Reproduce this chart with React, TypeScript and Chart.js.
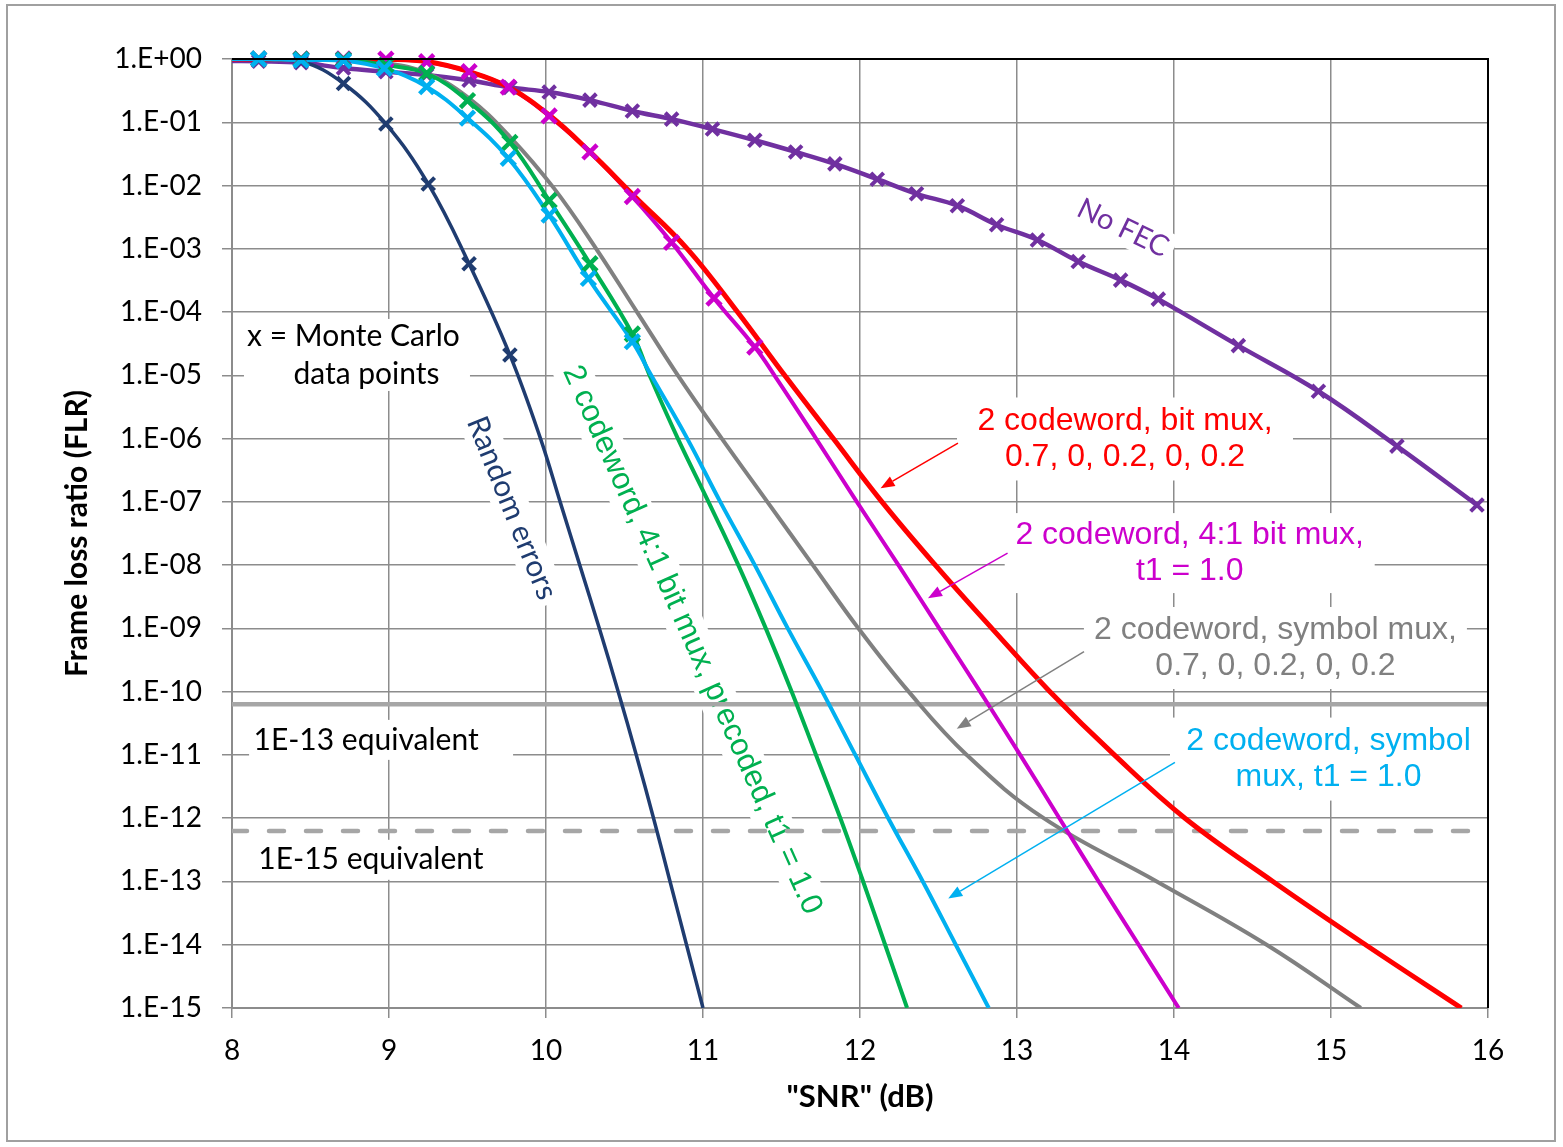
import { useEffect, useRef } from 'react';
import { Chart, registerables } from 'chart.js';

Chart.register(...registerables);

// ---------------- data ----------------
const xTickValues = [8, 9, 10, 11, 12, 13, 14, 15, 16];
const yTickExponents = [0, -1, -2, -3, -4, -5, -6, -7, -8, -9, -10, -11, -12, -13, -14, -15];

// No FEC (purple)
const noFecCurveX = [8.0, 8.17, 8.44, 8.71, 8.98, 9.24, 9.51, 9.77, 10.02, 10.28, 10.55, 10.80, 11.06, 11.33, 11.59, 11.84, 12.11, 12.36, 12.62, 12.87, 13.13, 13.39, 13.66, 13.90, 14.41, 14.92, 15.42, 15.93];
const noFecCurveY = [0.93, 0.92, 0.87, 0.72, 0.63, 0.56, 0.46, 0.355, 0.30, 0.224, 0.151, 0.112, 0.078, 0.052, 0.034, 0.022, 0.0126, 0.0074, 0.0048, 0.0024, 0.00138, 6.3e-4, 3.2e-4, 1.6e-4, 2.95e-5, 5.6e-6, 7.6e-7, 8.9e-8];
const noFecMcX = [8.17, 8.44, 8.71, 8.98, 9.24, 9.51, 9.77, 10.02, 10.28, 10.55, 10.80, 11.06, 11.33, 11.59, 11.84, 12.11, 12.36, 12.62, 12.87, 13.13, 13.39, 13.66, 13.90, 14.41, 14.92, 15.42, 15.93];
const noFecMcY = [0.92, 0.87, 0.72, 0.63, 0.56, 0.46, 0.355, 0.30, 0.224, 0.151, 0.112, 0.078, 0.052, 0.034, 0.022, 0.0126, 0.0074, 0.0048, 0.0024, 0.00138, 6.3e-4, 3.2e-4, 1.6e-4, 2.95e-5, 5.6e-6, 7.6e-7, 8.9e-8];

// Random errors (dark blue)
const randomCurveX = [8.0, 8.17, 8.44, 8.71, 8.98, 9.25, 9.51, 9.77, 9.965, 10.09, 10.215, 10.34, 10.46, 10.575, 10.685, 10.79, 10.895, 11.0];
const randomCurveY = [0.99, 0.98, 0.92, 0.41, 0.094, 0.0106, 5.8e-4, 2.1e-5, 1e-6, 1e-7, 1e-8, 1e-9, 1e-10, 1e-11, 1e-12, 1e-13, 1e-14, 1e-15];
const randomMcX = [8.17, 8.44, 8.71, 8.98, 9.25, 9.51, 9.77];
const randomMcY = [0.98, 0.92, 0.41, 0.094, 0.0106, 5.8e-4, 2.1e-5];

// 2 codeword, 4:1 bit mux, precoded, t1 = 1.0 (green)
const precodedCurveX = [8.0, 8.17, 8.44, 8.71, 8.98, 9.24, 9.50, 9.77, 10.02, 10.28, 10.55, 10.66, 10.84, 11.035, 11.225, 11.40, 11.565, 11.72, 11.875, 12.02, 12.16, 12.30];
const precodedCurveY = [1.0, 1.0, 0.99, 0.98, 0.80, 0.59, 0.22, 0.048, 0.0058, 5.8e-4, 4.5e-5, 1e-5, 1e-6, 1e-7, 1e-8, 1e-9, 1e-10, 1e-11, 1e-12, 1e-13, 1e-14, 1e-15];
const precodedMcX = [8.17, 8.44, 8.71, 8.98, 9.24, 9.50, 9.77, 10.02, 10.28, 10.55];
const precodedMcY = [1.0, 0.99, 0.98, 0.80, 0.59, 0.22, 0.048, 0.0058, 5.8e-4, 4.5e-5];

// 2 codeword, symbol mux, t1 = 1.0 (cyan)
const symT1CurveX = [8.0, 8.17, 8.44, 8.71, 8.97, 9.24, 9.50, 9.76, 10.02, 10.27, 10.55, 10.67, 10.90, 11.11, 11.33, 11.54, 11.76, 11.97, 12.18, 12.40, 12.61, 12.82];
const symT1CurveY = [1.0, 1.0, 0.96, 0.94, 0.71, 0.365, 0.116, 0.027, 0.0034, 3.4e-4, 3.4e-5, 1e-5, 1e-6, 1e-7, 1e-8, 1e-9, 1e-10, 1e-11, 1e-12, 1e-13, 1e-14, 1e-15];
const symT1McX = [8.17, 8.44, 8.71, 8.97, 9.24, 9.50, 9.76, 10.02, 10.27, 10.55];
const symT1McY = [1.0, 0.96, 0.94, 0.71, 0.365, 0.116, 0.027, 0.0034, 3.4e-4, 3.4e-5];

// 2 codeword, symbol mux, 0.7, 0, 0.2, 0, 0.2 (gray)
const symMuxX = [8.0, 8.44, 8.71, 8.97, 9.24, 9.50, 9.77, 10.05, 10.32, 10.58, 10.84, 11.12, 11.41, 11.70, 11.99, 12.31, 12.68, 13.17, 13.89, 14.59, 15.19];
const symMuxY = [1.0, 0.995, 0.975, 0.87, 0.60, 0.25, 0.059, 0.0091, 1e-3, 1e-4, 1e-5, 1e-6, 1e-7, 1e-8, 1e-9, 1e-10, 1e-11, 1e-12, 1e-13, 1e-14, 1e-15];

// 2 codeword, 4:1 bit mux, t1 = 1.0 (magenta)
const bit41CurveX = [8.0, 8.17, 8.44, 8.71, 8.98, 9.24, 9.51, 9.76, 10.02, 10.28, 10.55, 10.80, 11.07, 11.33, 11.455, 11.72, 11.98, 12.245, 12.505, 12.765, 13.02, 13.27, 13.52, 13.775, 14.03];
const bit41CurveY = [1.0, 1.0, 1.0, 1.0, 0.99, 0.906, 0.63, 0.36, 0.126, 0.034, 0.0067, 0.00126, 1.66e-4, 2.8e-5, 1e-5, 1e-6, 1e-7, 1e-8, 1e-9, 1e-10, 1e-11, 1e-12, 1e-13, 1e-14, 1e-15];
const bit41McX = [8.17, 8.44, 8.71, 8.98, 9.24, 9.51, 9.76, 10.02, 10.28, 10.55, 10.80, 11.07, 11.33];
const bit41McY = [1.0, 1.0, 1.0, 0.99, 0.906, 0.63, 0.36, 0.126, 0.034, 0.0067, 0.00126, 1.66e-4, 2.8e-5];

// 2 codeword, bit mux, 0.7, 0, 0.2, 0, 0.2 (red)
const bitMuxX = [8.0, 8.71, 8.98, 9.24, 9.51, 9.76, 10.02, 10.28, 10.56, 10.90, 11.22, 11.52, 11.83, 12.14, 12.48, 12.84, 13.21, 13.62, 14.07, 14.63, 15.22, 15.83];
const bitMuxY = [1.0, 1.0, 0.99, 0.91, 0.63, 0.36, 0.13, 0.034, 0.0069, 1e-3, 1e-4, 1e-5, 1e-6, 1e-7, 1e-8, 1e-9, 1e-10, 1e-11, 1e-12, 1e-13, 1e-14, 1e-15];

// Reference levels
const refX = [8, 16];
const ref13Y = [6.3e-11, 6.3e-11];
const ref15Y = [6.3e-13, 6.3e-13];

// ---------------- styles ----------------
const C_PURPLE = '#7030A0';
const C_NAVY = '#1F3C70';
const C_GREEN = '#00B050';
const C_CYAN = '#00B0F0';
const C_GRAY = '#808080';
const C_MAGENTA = '#CC00CC';
const C_RED = '#FF0000';
const C_REF = '#A6A6A6';
const C_GRID = '#8C8C8C';

const COLORED_FONT = '32px "Liberation Sans"';
const BLACK_FONT = '30px Lato';

type Label = {
  lines: string[];
  x: number;
  y: number;
  color: string;
  font: string;
  lh: number;
  rot?: number;
  dx?: number[];
  box?: { w?: number; h?: number; dx?: number; padX?: number };
};

const labels: Label[] = [
  { lines: ['x = Monte Carlo', 'data points'], x: 8.796, y: 2.1e-5, color: '#000', font: BLACK_FONT, lh: 38, dx: [-3.5, 9.5], box: { w: 226, h: 72 } },
  { lines: ['1E-13 equivalent'], x: 8.854, y: 1.73e-11, color: '#000', font: BLACK_FONT, lh: 34, box: { w: 264, h: 40, dx: 15 } },
  { lines: ['1E-15 equivalent'], x: 8.885, y: 2.2e-13, color: '#000', font: BLACK_FONT, lh: 34, box: { w: 240, h: 40 } },
  { lines: ['2 codeword, bit mux,', '0.7, 0, 0.2, 0, 0.2'], x: 13.688, y: 9.86e-7, color: C_RED, font: COLORED_FONT, lh: 36, box: { w: 336, h: 83 } },
  { lines: ['2 codeword, 4:1 bit mux,', 't1 = 1.0'], x: 14.10, y: 1.55e-8, color: C_MAGENTA, font: COLORED_FONT, lh: 36, box: { w: 370, h: 80 } },
  { lines: ['2 codeword, symbol mux,', '0.7, 0, 0.2, 0, 0.2'], x: 14.646, y: 4.9e-10, color: C_GRAY, font: COLORED_FONT, lh: 36, box: { w: 383, h: 82 } },
  { lines: ['2 codeword, symbol', 'mux, t1 = 1.0'], x: 14.984, y: 8.6e-12, color: C_CYAN, font: COLORED_FONT, lh: 36, box: { w: 317, h: 83 } },
  { lines: ['No FEC'], x: 13.675, y: 2.13e-3, color: C_PURPLE, font: '29px Lato', lh: 34, rot: 26, box: { padX: 6, h: 34 } },
  { lines: ['Random errors'], x: 9.783, y: 8.0e-8, color: C_NAVY, font: '30px Lato', lh: 34, rot: 68, box: { padX: 6, h: 36 } },
  { lines: ['2 codeword, 4:1 bit mux, precoded, t1 = 1.0'], x: 10.93, y: 6.56e-10, color: C_GREEN, font: '31px "Liberation Sans"', lh: 36, rot: 66, box: { padX: 6, h: 38 } },
];

const arrows = [
  { x1: 12.624, y1: 8.5e-7, x2: 12.131, y2: 1.64e-7, color: C_RED },
  { x1: 12.94, y1: 1.55e-8, x2: 12.433, y2: 3.0e-9, color: C_MAGENTA },
  { x1: 13.427, y1: 4.3e-10, x2: 12.616, y2: 2.6e-11, color: C_GRAY },
  { x1: 14.006, y1: 7.6e-12, x2: 12.562, y2: 5.4e-14, color: C_CYAN },
];

const pts = (xs: number[], ys: number[]) => xs.map((x, i) => ({ x, y: ys[i] }));

const curve = (xs: number[], ys: number[], color: string, width: number) => ({
  data: pts(xs, ys),
  borderColor: color,
  backgroundColor: color,
  borderWidth: width,
  pointRadius: 0,
  fill: false,
  tension: 0.4,
  borderJoinStyle: 'round' as const,
});

const markers = (xs: number[], ys: number[], color: string, r: number, w: number) => ({
  data: pts(xs, ys),
  showLine: false,
  borderColor: color,
  backgroundColor: color,
  pointStyle: 'crossRot' as const,
  pointRadius: r,
  pointBorderWidth: w,
  clip: false as const,
});

function drawArrow(ctx: CanvasRenderingContext2D, x1: number, y1: number, x2: number, y2: number, color: string) {
  ctx.save();
  ctx.strokeStyle = color;
  ctx.fillStyle = color;
  ctx.lineWidth = 1.5;
  const ang = Math.atan2(y2 - y1, x2 - x1);
  const headLen = 14;
  const headW = 5.5;
  const bx = x2 - headLen * Math.cos(ang);
  const by = y2 - headLen * Math.sin(ang);
  ctx.beginPath();
  ctx.moveTo(x1, y1);
  ctx.lineTo(bx, by);
  ctx.stroke();
  ctx.beginPath();
  ctx.moveTo(x2, y2);
  ctx.lineTo(bx + headW * Math.sin(ang), by - headW * Math.cos(ang));
  ctx.lineTo(bx - headW * Math.sin(ang), by + headW * Math.cos(ang));
  ctx.closePath();
  ctx.fill();
  ctx.restore();
}

const decorPlugin = {
  id: 'decor',
  beforeDatasetsDraw(chart: any) {
    const { ctx, scales } = chart;
    const xs = scales.x;
    const ys = scales.y;
    for (const a of labels) {
      const cx = xs.getPixelForValue(a.x);
      const cy = ys.getPixelForValue(a.y);
      ctx.save();
      ctx.translate(cx, cy);
      ctx.rotate(((a.rot || 0) * Math.PI) / 180);
      ctx.font = a.font;
      const widths = a.lines.map((l) => ctx.measureText(l).width);
      const b = a.box || {};
      const w = b.w ?? Math.max(...widths) + 2 * (b.padX ?? 8);
      const h = b.h ?? a.lines.length * a.lh + 8;
      ctx.fillStyle = '#ffffff';
      ctx.fillRect(-w / 2 + (b.dx || 0), -h / 2, w, h);
      ctx.fillStyle = a.color;
      ctx.textAlign = 'center';
      ctx.textBaseline = 'middle';
      a.lines.forEach((l, i) => {
        const off = a.dx ? a.dx[i] : 0;
        ctx.fillText(l, off, (i - (a.lines.length - 1) / 2) * a.lh);
      });
      ctx.restore();
    }
  },
  afterDatasetsDraw(chart: any) {
    const { ctx, scales, chartArea } = chart;
    const xs = scales.x;
    const ys = scales.y;
    for (const ar of arrows) {
      drawArrow(ctx, xs.getPixelForValue(ar.x1), ys.getPixelForValue(ar.y1), xs.getPixelForValue(ar.x2), ys.getPixelForValue(ar.y2), ar.color);
    }
    ctx.save();
    ctx.strokeStyle = '#000';
    ctx.lineWidth = 2;
    ctx.beginPath();
    ctx.moveTo(chartArea.left, chartArea.top);
    ctx.lineTo(chartArea.right, chartArea.top);
    ctx.lineTo(chartArea.right, chartArea.bottom);
    ctx.stroke();
    ctx.restore();
  },
  afterDraw(chart: any) {
    const { ctx, width, height } = chart;
    ctx.save();
    ctx.strokeStyle = '#A0A0A0';
    ctx.lineWidth = 2;
    ctx.strokeRect(7, 5, width - 15, height - 11);
    ctx.restore();
  },
};

const fmtExp = (v: number) => {
  const e = Math.round(Math.log10(v));
  return '1.E' + (e < 0 ? '-' : '+') + String(Math.abs(e)).padStart(2, '0');
};

export default function App() {
  const ref = useRef<HTMLCanvasElement | null>(null);

  useEffect(() => {
    if (!ref.current) return;
    const chart = new Chart(ref.current, {
      type: 'line',
      data: {
        datasets: [
          markers(symT1McX, symT1McY, C_CYAN, 10, 4.5),
          markers(precodedMcX, precodedMcY, C_GREEN, 10, 4.5),
          markers(bit41McX, bit41McY, C_MAGENTA, 10, 4.5),
          markers(randomMcX, randomMcY, C_NAVY, 9, 4),
          markers(noFecMcX, noFecMcY, C_PURPLE, 9, 4),
          curve(symT1CurveX, symT1CurveY, C_CYAN, 4),
          curve(precodedCurveX, precodedCurveY, C_GREEN, 4),
          curve(bitMuxX, bitMuxY, C_RED, 5),
          curve(bit41CurveX, bit41CurveY, C_MAGENTA, 4),
          curve(symMuxX, symMuxY, C_GRAY, 4),
          curve(randomCurveX, randomCurveY, C_NAVY, 3.5),
          curve(noFecCurveX, noFecCurveY, C_PURPLE, 4.5),
          { data: pts(refX, ref13Y), borderColor: C_REF, borderWidth: 4.5, pointRadius: 0 },
          { data: pts(refX, ref15Y), borderColor: C_REF, borderWidth: 4.5, pointRadius: 0, borderDash: [15, 22], borderCapStyle: 'round' },
        ] as any,
      },
      options: {
        responsive: false,
        animation: false,
        devicePixelRatio: 1,
        events: [],
        layout: { padding: { top: 59, right: 75, left: 0, bottom: 0 } },
        plugins: { legend: { display: false }, tooltip: { enabled: false } },
        scales: {
          x: {
            type: 'linear',
            min: 8,
            max: 16,
            afterBuildTicks: (s: any) => {
              s.ticks = xTickValues.map((v) => ({ value: v }));
            },
            afterFit: (s: any) => {
              s.height = 139;
            },
            grid: { color: C_GRID, lineWidth: 1.5, tickLength: 10 },
            border: { color: C_GRID, width: 2 },
            ticks: {
              font: { family: 'Lato', size: 28 },
              color: '#000',
              padding: 16,
              maxRotation: 0,
              autoSkip: false,
            },
            title: {
              display: true,
              text: '"SNR" (dB)',
              color: '#000',
              font: { family: 'Lato', size: 31, weight: 'bold' },
              padding: { top: 0, bottom: 31 },
            },
          },
          y: {
            type: 'logarithmic',
            min: 1e-15,
            max: 1,
            afterBuildTicks: (s: any) => {
              s.ticks = yTickExponents.map((e) => ({ value: Math.pow(10, e) }));
            },
            afterFit: (s: any) => {
              s.width = 232;
            },
            grid: { color: C_GRID, lineWidth: 1.5, tickLength: 10 },
            border: { color: C_GRID, width: 2 },
            ticks: {
              font: { family: 'Lato', size: 28 },
              color: '#000',
              padding: 20,
              autoSkip: false,
              callback: (v: any) => fmtExp(Number(v)),
            },
            title: {
              display: true,
              text: 'Frame loss ratio (FLR)',
              color: '#000',
              font: { family: 'Lato', size: 30, weight: 'bold' },
              padding: { top: 59, bottom: 0 },
            },
          },
        },
      } as any,
      plugins: [decorPlugin],
    });
    return () => chart.destroy();
  }, []);

  return (
    <div style={{ position: 'absolute', left: 0, top: 0, width: 1563, height: 1147, background: '#fff' }}>
      <canvas ref={ref} width={1563} height={1147} />
    </div>
  );
}
